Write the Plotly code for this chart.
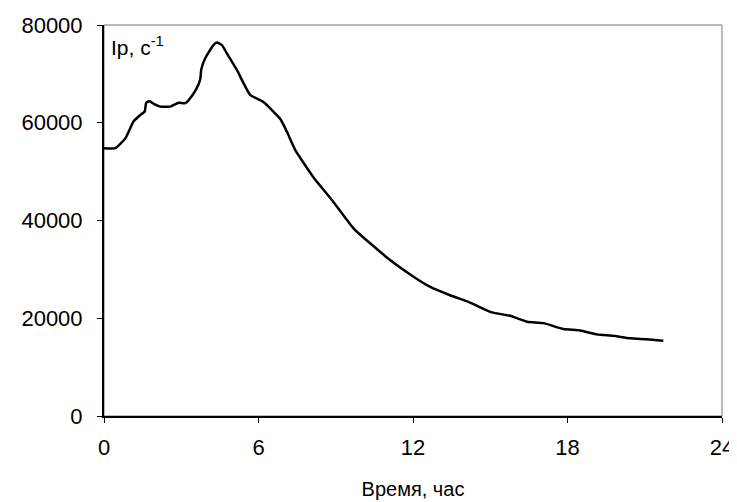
import plotly.graph_objects as go

hours = [0, 0.44, 0.83, 1.15, 1.41, 1.58, 1.64, 1.77, 1.95, 2.19, 2.57, 2.9, 3.16, 3.48, 3.66,
         3.74, 3.78, 3.93, 4.25, 4.39, 4.58, 4.77, 5.16, 5.68, 6.2, 6.84, 7.1, 7.43, 8.14,
         8.91, 9.69, 11.11, 12.02, 12.67, 13.44, 14.22, 15.06, 15.77, 16.42, 17.07, 17.84,
         18.49, 19.14, 19.78, 20.43, 21.08, 21.72]
intensity = [54800, 54800, 56800, 60300, 61600, 62300, 64100, 64400, 63800, 63300, 63300,
             64100, 64000, 66000, 67700, 69000, 71000, 73200, 75900, 76400, 75900, 74200,
             70800, 65700, 64200, 60800, 58200, 54400, 48800, 43800, 38400, 31900, 28500,
             26400, 24700, 23200, 21200, 20500, 19300, 19000, 17800, 17500, 16700, 16400,
             15900, 15700, 15400]
x_ticks = [0, 6, 12, 18, 24]
y_ticks = [0, 20000, 40000, 60000, 80000]

FONT = "Liberation Sans, Arial, sans-serif"

fig = go.Figure()
fig.add_trace(go.Scatter(x=hours, y=intensity, mode="lines",
                         line=dict(color="black", width=2.5, shape="spline", smoothing=0.5),
                         showlegend=False, hoverinfo="skip"))

fig.add_shape(type="rect", xref="paper", yref="paper", x0=0, y0=0, x1=1, y1=1,
              line=dict(color="#777777", width=1), layer="below")

# page body has an 8px default margin, so the figure is sized to fill the rest of the window
fig.update_layout(
    width=729, height=494,
    margin=dict(l=96, r=15, t=17, b=86),
    paper_bgcolor="white", plot_bgcolor="white",
    font=dict(family=FONT, size=22, color="black"),
    xaxis=dict(range=[0, 24], tickvals=x_ticks, ticktext=[str(v) for v in x_ticks],
               showgrid=False, zeroline=False, showline=True, linecolor="black", linewidth=2,
               ticks="outside", ticklen=5, tickcolor="black", tickwidth=1,
               automargin=False, ticklabelstandoff=6,
               title=dict(text="Время, час", standoff=23, font=dict(size=20))),
    yaxis=dict(range=[0, 80000], tickvals=y_ticks, ticktext=[str(v) for v in y_ticks],
               showgrid=False, zeroline=False, showline=True, linecolor="black", linewidth=2,
               ticks="outside", ticklen=5, tickcolor="black", tickwidth=1,
               automargin=False, ticklabelstandoff=10),
    annotations=[dict(text="Ip, c<sup>-1</sup>", xref="paper", yref="paper", x=0.008, y=0.985,
                      xanchor="left", yanchor="top", showarrow=False,
                      font=dict(size=21, color="black"))],
)

fig.write_html("out.html")
